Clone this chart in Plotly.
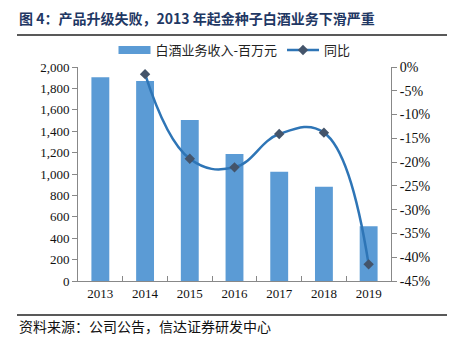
import plotly.graph_objects as go

years = ["2013", "2014", "2015", "2016", "2017", "2018", "2019"]
revenue = [1905, 1868, 1505, 1187, 1020, 880, 512]
yoy_years = ["2014", "2015", "2016", "2017", "2018", "2019"]
yoy = [-1.5, -19.3, -21.1, -14.1, -13.8, -41.5]

bar_name = "白酒业务收入-百万元"
line_name = "同比"
title = "图 4：产品升级失败，2013 年起金种子白酒业务下滑严重"
source = "资料来源：公司公告，信达证券研发中心"

left_ticks = list(range(0, 2001, 200))
right_ticks = list(range(0, -46, -5))

serif = "Liberation Serif, Times New Roman, serif"
cjk = "Noto Sans CJK SC"
bar_color = "#5B9BD5"

W, H = 457, 344
L, R, T, B = 78, 66, 67, 63
PW, PH = W - L - R, H - T - B


def px(x):
    return (x - L) / PW


def py(y):
    return (H - B - y) / PH


fig = go.Figure()
fig.add_trace(go.Bar(
    x=years, y=revenue, name=bar_name, showlegend=False,
    marker=dict(color=bar_color, line=dict(width=0)),
    width=0.4,
))
# legend entry for bars drawn as a wide rectangle
fig.add_trace(go.Scatter(
    x=[None], y=[None], name=bar_name, mode="lines",
    line=dict(color=bar_color, width=8),
))
fig.add_trace(go.Scatter(
    x=yoy_years, y=yoy, name=line_name, yaxis="y2",
    mode="lines+markers",
    line=dict(color="#2E75B6", width=2.5, shape="spline", smoothing=1.2),
    marker=dict(symbol="diamond", size=8, color="#44546A"),
))

fig.update_layout(
    width=W, height=H,
    margin=dict(l=L, r=R, t=T, b=B),
    paper_bgcolor="white", plot_bgcolor="white",
    showlegend=True,
    legend=dict(orientation="h", x=0.5, xanchor="center", y=py(50), yanchor="middle",
                font=dict(family=cjk, size=13, color="#222"),
                traceorder="normal", bgcolor="rgba(0,0,0,0)", itemwidth=32),
    xaxis=dict(type="category", tickfont=dict(family=serif, size=13, color="#111"),
               showline=True, linecolor="#888", linewidth=1,
               ticks="inside", tickson="boundaries", ticklen=5, tickcolor="#888",
               showgrid=False, range=[-0.5, 6.5]),
    yaxis=dict(range=[0, 2000], tickvals=left_ticks,
               ticktext=[f"{v:,}" for v in left_ticks],
               tickfont=dict(family=serif, size=13, color="#111"),
               showline=True, linecolor="#888", linewidth=1,
               ticks="outside", ticklen=5, tickcolor="#888",
               showgrid=False, zeroline=False),
    yaxis2=dict(range=[-45, 0], overlaying="y", side="right",
                tickvals=right_ticks, ticktext=[f"{v}%" for v in right_ticks],
                tickfont=dict(family=serif, size=14, color="#111"),
                showline=True, linecolor="#888", linewidth=1,
                ticks="outside", ticklen=5, tickcolor="#888",
                showgrid=False, zeroline=False),
)

fig.add_annotation(text="<b>" + title + "</b>", xref="paper", yref="paper",
                   x=px(17), xanchor="left", y=py(18), yanchor="middle",
                   showarrow=False, font=dict(family=cjk, size=14, color="#1F3864"))
fig.add_shape(type="line", xref="paper", yref="paper", x0=px(17), x1=px(447),
              y0=py(35), y1=py(35), line=dict(color="#222", width=1.5))
fig.add_shape(type="line", xref="paper", yref="paper", x0=px(17), x1=px(447),
              y0=py(315), y1=py(315), line=dict(color="#222", width=1.5))
fig.add_annotation(text=source, xref="paper", yref="paper",
                   x=px(17), xanchor="left", y=py(326), yanchor="middle",
                   showarrow=False, font=dict(family=cjk, size=14, color="#111"))

fig.write_html("out.html")
